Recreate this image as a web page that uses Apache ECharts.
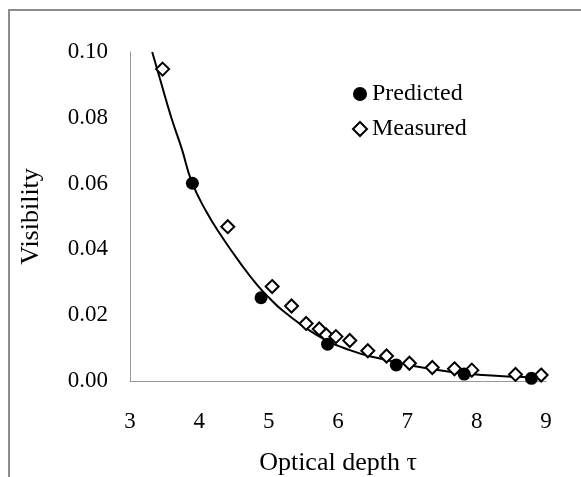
<!DOCTYPE html>
<html>
<head>
<meta charset="utf-8">
<script src="https://cdn.jsdelivr.net/npm/echarts@6/dist/echarts.min.js"></script>
<style>
html,body{margin:0;padding:0;background:#fff;}
#c{width:581px;height:477px;}
</style>
</head>
<body>
<div id="c"></div>
<script>
// Data
var predictedTau = [3.90, 4.89, 5.85, 6.84, 7.82, 8.79];
var predictedVis = [0.0601, 0.0253, 0.0112, 0.0049, 0.0021, 0.0008];

var measuredTau = [3.47, 4.41, 5.05, 5.33, 5.54, 5.73, 5.83, 5.97, 6.17, 6.43, 6.70, 7.03, 7.36, 7.68, 7.93, 8.56, 8.93];
var measuredVis = [0.0948, 0.0469, 0.0287, 0.0228, 0.0175, 0.0158, 0.0140, 0.0135, 0.0123, 0.0092, 0.0076, 0.0054, 0.0041, 0.0037, 0.0033, 0.0020, 0.0018];

var curveTau = [3.32, 3.43, 3.60, 3.745, 3.89, 4.10, 4.34, 4.585, 4.83, 5.02, 5.21, 5.69, 6.17, 6.65, 7.13, 7.61, 8.09, 8.57, 9.00];
var curveVis = [0.1000, 0.0920, 0.0798, 0.0707, 0.0606, 0.0515, 0.0434, 0.0360, 0.0293, 0.0250, 0.0213, 0.0140, 0.0094, 0.0066, 0.0044, 0.0028, 0.0018, 0.0013, 0.0011];

var xTicks = [3, 4, 5, 6, 7, 8, 9];
var yTicks = [0.00, 0.02, 0.04, 0.06, 0.08, 0.10];

function zip(a, b) { return a.map(function (v, i) { return [v, b[i]]; }); }

var font = "'Liberation Serif', 'Times New Roman', serif";
var chart = echarts.init(document.getElementById('c'), null, {renderer: 'canvas'});
chart.setOption({
  backgroundColor: '#fff',
  animation: false,
  graphic: [{
    type: 'rect',
    shape: {x: 9, y: 10, width: 700, height: 600},
    style: {fill: 'none', stroke: '#8c8c8c', lineWidth: 2},
    silent: true
  }],
  grid: {left: 130, right: 35, top: 52, bottom: 96, outerBoundsMode: 'none', containLabel: false},
  legend: {
    orient: 'vertical',
    left: 347,
    top: 77,
    itemWidth: 14,
    itemHeight: 14,
    itemGap: 11,
    data: ['Predicted', 'Measured'],
    textStyle: {fontFamily: font, fontSize: 24, color: '#000'}
  },
  xAxis: {
    type: 'value',
    min: xTicks[0], max: xTicks[xTicks.length - 1], interval: 1,
    name: 'Optical depth τ',
    nameLocation: 'middle',
    nameGap: 69,
    nameTextStyle: {fontFamily: font, fontSize: 26, color: '#000'},
    axisLine: {show: true, lineStyle: {color: '#999', width: 1}},
    axisTick: {show: false},
    splitLine: {show: false},
    axisLabel: {margin: 29, fontFamily: font, fontSize: 23, color: '#000'}
  },
  yAxis: {
    type: 'value',
    min: yTicks[0], max: yTicks[yTicks.length - 1], interval: 0.02,
    name: 'Visibility',
    nameLocation: 'middle',
    nameGap: 86,
    nameTextStyle: {fontFamily: font, fontSize: 26, color: '#000'},
    axisLine: {show: true, lineStyle: {color: '#999', width: 1}},
    axisTick: {show: false},
    splitLine: {show: false},
    axisLabel: {margin: 22, fontFamily: font, fontSize: 23, color: '#000',
      formatter: function (v) { return v.toFixed(2); }}
  },
  series: [
    {
      name: 'Fit',
      type: 'line',
      data: zip(curveTau, curveVis),
      smooth: 0.5,
      showSymbol: false,
      lineStyle: {color: '#000', width: 2},
      z: 1
    },
    {
      name: 'Measured',
      type: 'scatter',
      data: zip(measuredTau, measuredVis),
      symbol: 'diamond',
      symbolSize: 13,
      itemStyle: {color: '#fff', borderColor: '#000', borderWidth: 2, opacity: 1},
      z: 3
    },
    {
      name: 'Predicted',
      type: 'scatter',
      data: zip(predictedTau, predictedVis),
      symbol: 'circle',
      symbolSize: 13,
      itemStyle: {color: '#000', opacity: 1},
      z: 4
    }
  ]
});
</script>
</body>
</html>
